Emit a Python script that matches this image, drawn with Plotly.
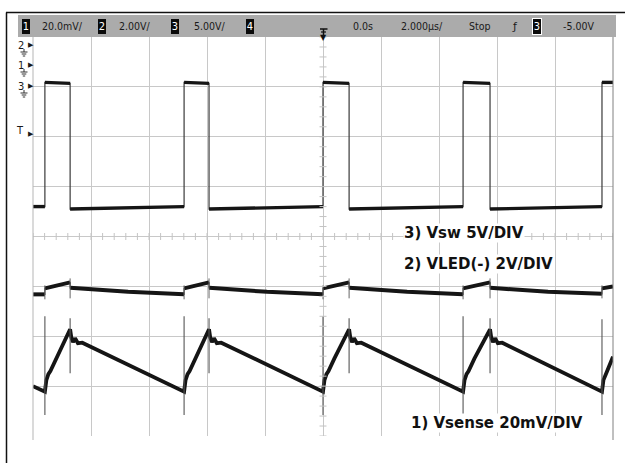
import plotly.graph_objects as go

# ---------------- data (time in µs, amplitude in screen divisions) ----------------
# Channel 3: Vsw
vsw_t = [-10.0, -9.59, -9.59, -8.72, -8.72, -4.79, -4.79, -3.93, -3.93, 0.0, 0.0, 0.90, 0.90,
         4.83, 4.83, 5.76, 5.76, 9.62, 9.62, 10.0]
vsw_v = [0.60, 0.60, 3.09, 3.07, 0.55, 0.60, 3.09, 3.07, 0.55, 0.60, 3.09, 3.07, 0.55,
         0.60, 3.09, 3.07, 0.55, 0.60, 3.09, 3.09]

# Channel 2: VLED(-)
vled_t = [-10.0, -9.59, -9.59, -8.72, -8.72, -6.72, -4.79,
          -4.79, -3.93, -3.93, -1.93, 0.0,
          0.0, 0.90, 0.90, 2.90, 4.83,
          4.83, 5.76, 5.76, 7.76, 9.62,
          9.62, 10.0]
vled_v = [-1.16, -1.16, -1.04, -0.92, -1.03, -1.11, -1.16,
          -1.04, -0.92, -1.03, -1.11, -1.16,
          -1.04, -0.92, -1.03, -1.11, -1.16,
          -1.04, -0.92, -1.03, -1.11, -1.15,
          -1.04, -1.00]

# Channel 1: Vsense
vsense_t = [-10.0, -9.59,
            -9.54, -9.47, -9.40, -9.20, -8.72,
            -8.68, -8.62, -8.55, -8.45, -8.30, -4.79,
            -4.74, -4.67, -4.60, -4.40, -3.93,
            -3.89, -3.83, -3.76, -3.66, -3.51, 0.0,
            0.05, 0.12, 0.19, 0.39, 0.90,
            0.94, 1.00, 1.07, 1.17, 1.32, 4.83,
            4.88, 4.95, 5.02, 5.22, 5.76,
            5.80, 5.86, 5.93, 6.03, 6.18, 9.62,
            9.67, 9.74, 9.81, 10.0]
vsense_v = [-3.00, -3.11,
            -2.88, -2.76, -2.70, -2.45, -1.86,
            -2.02, -2.12, -2.04, -2.14, -2.13, -3.11,
            -2.88, -2.76, -2.70, -2.45, -1.86,
            -2.02, -2.12, -2.04, -2.14, -2.13, -3.11,
            -2.88, -2.76, -2.70, -2.45, -1.86,
            -2.02, -2.12, -2.04, -2.14, -2.13, -3.11,
            -2.88, -2.76, -2.70, -2.45, -1.86,
            -2.02, -2.12, -2.04, -2.14, -2.13, -3.11,
            -2.88, -2.76, -2.68, -2.41]

# switching-edge spikes (thin traces)
spike_t = [-9.59, -8.72, -4.79, -3.93, 0.0, 0.90, 4.83, 5.76, 9.62]
vsense_spike_lo = [-3.58, -2.74, -3.58, -2.74, -3.58, -2.74, -3.58, -2.74, -3.58]
vsense_spike_hi = [-1.60, -1.64, -1.60, -1.64, -1.60, -1.64, -1.60, -1.64, -1.66]
vled_spike_lo = [-1.26, -1.24, -1.26, -1.24, -1.26, -1.24, -1.26, -1.24, -1.24]
vled_spike_hi = [-0.98, -0.84, -0.98, -0.84, -0.98, -0.84, -0.98, -0.84, -0.98]

header_items = ["20.0mV/", "2.00V/", "5.00V/", "0.0s", "2.000µs/", "Stop", "-5.00V"]
labels = ["3) Vsw 5V/DIV", "2) VLED(-) 2V/DIV", "1) Vsense 20mV/DIV"]

# ---------------- layout geometry ----------------
W, H = 625, 463
ML, MR, MT, MB = 33, 12, 37, 27
PW, PH = W - ML - MR, H - MT - MB


def xp(px):
    return (px - ML) / PW


def yp(py):
    return (H - MB - py) / PH


def break_verticals(t, v):
    """Break a trace where it jumps vertically so the plateaus can be drawn thick."""
    bt, bv = [t[0]], [v[0]]
    for i in range(1, len(t)):
        if t[i] == t[i - 1]:
            bt.append(None)
            bv.append(None)
        bt.append(t[i])
        bv.append(v[i])
    return bt, bv


def spikes(ts, lo, hi):
    xs, ys = [], []
    for t, a, b in zip(ts, lo, hi):
        xs += [t, t, None]
        ys += [a, b, None]
    return xs, ys


fig = go.Figure()

INK = "#151515"
THIN = "#3a3a3a"

for (t, v), wid in [((vsw_t, vsw_v), 3.4), ((vled_t, vled_v), 4.0), ((vsense_t, vsense_v), 3.8)]:
    fig.add_trace(go.Scatter(x=t, y=v, mode="lines", line=dict(color=THIN, width=1.2),
                             hoverinfo="skip", showlegend=False))
    bt, bv = break_verticals(t, v)
    fig.add_trace(go.Scatter(x=bt, y=bv, mode="lines", line=dict(color=INK, width=wid),
                             connectgaps=False, hoverinfo="skip", showlegend=False))

sx, sy = spikes(spike_t, vsense_spike_lo, vsense_spike_hi)
fig.add_trace(go.Scatter(x=sx, y=sy, mode="lines", line=dict(color="#555555", width=1.1),
                         hoverinfo="skip", showlegend=False))
sx, sy = spikes(spike_t, vled_spike_lo, vled_spike_hi)
fig.add_trace(go.Scatter(x=sx, y=sy, mode="lines", line=dict(color="#666666", width=1),
                         hoverinfo="skip", showlegend=False))

# graticule minor ticks on the centre lines
hx = [-10 + 0.4 * i for i in range(51)]
fig.add_trace(go.Scatter(x=hx, y=[0] * len(hx), mode="markers",
                         marker=dict(symbol="line-ns", size=5, line=dict(color="#c4c4c4", width=1)),
                         hoverinfo="skip", showlegend=False))
vy = [-4 + 0.2 * i for i in range(41)]
fig.add_trace(go.Scatter(x=[0] * len(vy), y=vy, mode="markers",
                         marker=dict(symbol="line-ew", size=5, line=dict(color="#c4c4c4", width=1)),
                         hoverinfo="skip", showlegend=False))

shapes = []
# plot edges
shapes.append(dict(type="line", xref="paper", yref="paper", x0=0, x1=0, y0=yp(440), y1=1,
                   line=dict(color="#b5b5b5", width=1)))
shapes.append(dict(type="line", xref="paper", yref="paper", x0=1, x1=1, y0=yp(440), y1=1,
                   line=dict(color="#808080", width=1)))
# outer frame
shapes.append(dict(type="line", xref="paper", yref="paper", x0=xp(6.5), x1=xp(6.5), y0=yp(463), y1=yp(12.5),
                   line=dict(color="#111111", width=1.5)))
shapes.append(dict(type="line", xref="paper", yref="paper", x0=xp(6), x1=xp(625), y0=yp(12.5), y1=yp(12.5),
                   line=dict(color="#111111", width=1.5)))
# header bar
shapes.append(dict(type="rect", xref="paper", yref="paper", x0=xp(18), x1=xp(616), y0=yp(37), y1=yp(15),
                   fillcolor="#ababab", line=dict(width=0), layer="above"))
# trigger position marker
shapes.append(dict(type="line", xref="paper", yref="paper", x0=xp(320), x1=xp(327.5), y0=yp(29), y1=yp(29),
                   line=dict(color="#111", width=1.5), layer="above"))
shapes.append(dict(type="line", xref="paper", yref="paper", x0=xp(323.5), x1=xp(323.5), y0=yp(29), y1=yp(36),
                   line=dict(color="#111", width=1.5), layer="above"))
shapes.append(dict(type="line", xref="paper", yref="paper", x0=xp(321), x1=xp(326), y0=yp(32), y1=yp(32),
                   line=dict(color="#111", width=1.2), layer="above"))
# ground symbols under channel markers
for cy in (46, 66, 87):
    for dy, half in ((6, 3.5), (8, 2.3), (10, 1.2)):
        shapes.append(dict(type="line", xref="paper", yref="paper", x0=xp(24 - half), x1=xp(24 + half),
                           y0=yp(cy + dy), y1=yp(cy + dy), line=dict(color="#333", width=1)))
    shapes.append(dict(type="line", xref="paper", yref="paper", x0=xp(24), x1=xp(24),
                       y0=yp(cy + 3), y1=yp(cy + 6), line=dict(color="#333", width=1)))

ann = []
HFONT = "DejaVu Sans Condensed, Liberation Sans Narrow, sans-serif"
# channel number boxes in header
for txt, cx, outline in [("1", 26, False), ("2", 102, False), ("3", 175, False), ("4", 250, False),
                         ("3", 537, True)]:
    ann.append(dict(x=xp(cx), y=yp(26.5), xref="paper", yref="paper", text=txt, showarrow=False,
                    font=dict(family=HFONT, size=11, color="white"), bgcolor="#0a0a0a",
                    width=8, height=15, borderpad=0,
                    bordercolor="white" if outline else "#0a0a0a", borderwidth=1 if outline else 0,
                    xanchor="center", yanchor="middle"))
for txt, lx in zip(header_items, [40, 117, 192, 351, 399, 467, 561]):
    ann.append(dict(x=xp(lx), y=yp(26.5), xref="paper", yref="paper", text=txt, showarrow=False,
                    font=dict(family=HFONT, size=10.5, color="#1a1a1a"), xanchor="left", yanchor="middle"))
ann.append(dict(x=xp(515), y=yp(26.5), xref="paper", yref="paper", text="ƒ", showarrow=False,
                font=dict(family="DejaVu Sans", size=11, color="#1a1a1a"), xanchor="center", yanchor="middle"))
ann.append(dict(x=xp(323.5), y=yp(37.5), xref="paper", yref="paper", text="▼", showarrow=False,
                font=dict(family="DejaVu Sans", size=8, color="#111"), xanchor="center", yanchor="middle"))

# left channel markers
for txt, cy in [("2", 45), ("1", 65), ("3", 86), ("T", 130)]:
    ann.append(dict(x=xp(26), y=yp(cy), xref="paper", yref="paper", text=txt, showarrow=False,
                    font=dict(family=HFONT, size=11, color="#1a1a1a"), xanchor="right", yanchor="middle"))
    ann.append(dict(x=xp(26), y=yp(cy + (4 if txt == "T" else 0)), xref="paper", yref="paper", text="▶",
                    showarrow=False, font=dict(family="DejaVu Sans", size=7, color="#1a1a1a"),
                    xanchor="left", yanchor="middle"))

# trace labels
for txt, lx, cy in zip(labels, [403, 403, 410], [232.5, 264, 423]):
    ann.append(dict(x=xp(lx), y=yp(cy), xref="paper", yref="paper", text="<b>" + txt + "</b>",
                    showarrow=False, font=dict(family="DejaVu Sans", size=15, color="#111"),
                    bgcolor="white", borderpad=0, xanchor="left", yanchor="middle"))

fig.update_layout(
    width=W, height=H,
    margin=dict(l=ML, r=MR, t=MT, b=MB, pad=0),
    paper_bgcolor="white", plot_bgcolor="white",
    showlegend=False,
    shapes=shapes, annotations=ann,
    xaxis=dict(range=[-10, 10], tick0=-10, dtick=2, showgrid=True, gridcolor="#c8c8c8", gridwidth=1,
               zeroline=False, showticklabels=False, ticks="", showline=False, fixedrange=True),
    yaxis=dict(range=[-4, 4], tick0=-4, dtick=1, showgrid=True, gridcolor="#c8c8c8", gridwidth=1,
               zeroline=False, showticklabels=False, ticks="", showline=False, fixedrange=True),
)

fig.write_html("out.html", config={"displayModeBar": False},
               post_script="document.body.style.margin='0px';document.body.style.padding='0px';")
